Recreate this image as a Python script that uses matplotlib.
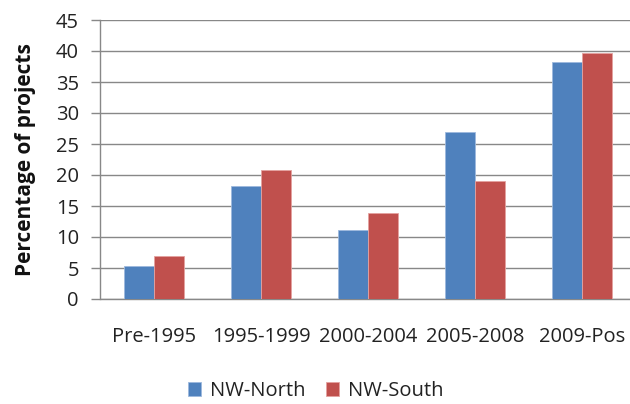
import matplotlib
matplotlib.use("Agg")
import matplotlib.pyplot as plt
import numpy as np

categories = ["Pre-1995", "1995-1999", "2000-2004", "2005-2008", "2009-Pos"]
nw_north = [5.4, 18.3, 11.1, 26.9, 38.2]
nw_south = [6.9, 20.8, 13.8, 19.0, 39.6]
yticks = [0, 5, 10, 15, 20, 25, 30, 35, 40, 45]

plt.rcParams['font.family'] = ['Open Sans', 'DejaVu Sans']

W, H = 630, 404
fig = plt.figure(figsize=(W / 100, H / 100), dpi=100)
ax = fig.add_axes([100.5 / W, (H - 299) / H, 535 / W, 279 / H])

x = np.arange(len(categories))
bw = 0.28
ax.bar(x - bw / 2, nw_north, width=bw, color="#4F81BD", edgecolor="#9DB9DD", linewidth=0.6, label="NW-North", zorder=3)
ax.bar(x + bw / 2, nw_south, width=bw, color="#C0504D", edgecolor="#E4A2A0", linewidth=0.6, label="NW-South", zorder=3)

ax.set_xlim(-0.5, len(categories) - 0.5)
ax.set_ylim(0, 45)
ax.set_yticks(yticks)
ax.set_xticks(x)
ax.set_xticklabels(categories)
ax.yaxis.grid(True, color="#888888", linewidth=1.0, zorder=0)
ax.set_axisbelow(True)

for s in ["top", "right"]:
    ax.spines[s].set_visible(False)
for s in ["left", "bottom"]:
    ax.spines[s].set_color("#888888")
    ax.spines[s].set_linewidth(1.0)

ax.tick_params(axis="y", direction="out", length=6.5, width=1, color="#888888", labelsize=14.5, labelcolor="#222222", pad=9)
ax.tick_params(axis="x", length=0, labelsize=14.5, labelcolor="#222222", pad=20)

ax.set_ylabel("Percentage of projects", fontsize=15, fontweight="bold", color="#111111", labelpad=14)

fig.legend(loc="center", bbox_to_anchor=(316 / W, (H - 391) / H), ncol=2, frameon=False,
           fontsize=14.5, handlelength=0.65, handleheight=0.65, handletextpad=0.45, columnspacing=1.0,
           labelcolor="#222222", borderaxespad=0, borderpad=0.1)

fig.savefig("out.png", dpi=100)
